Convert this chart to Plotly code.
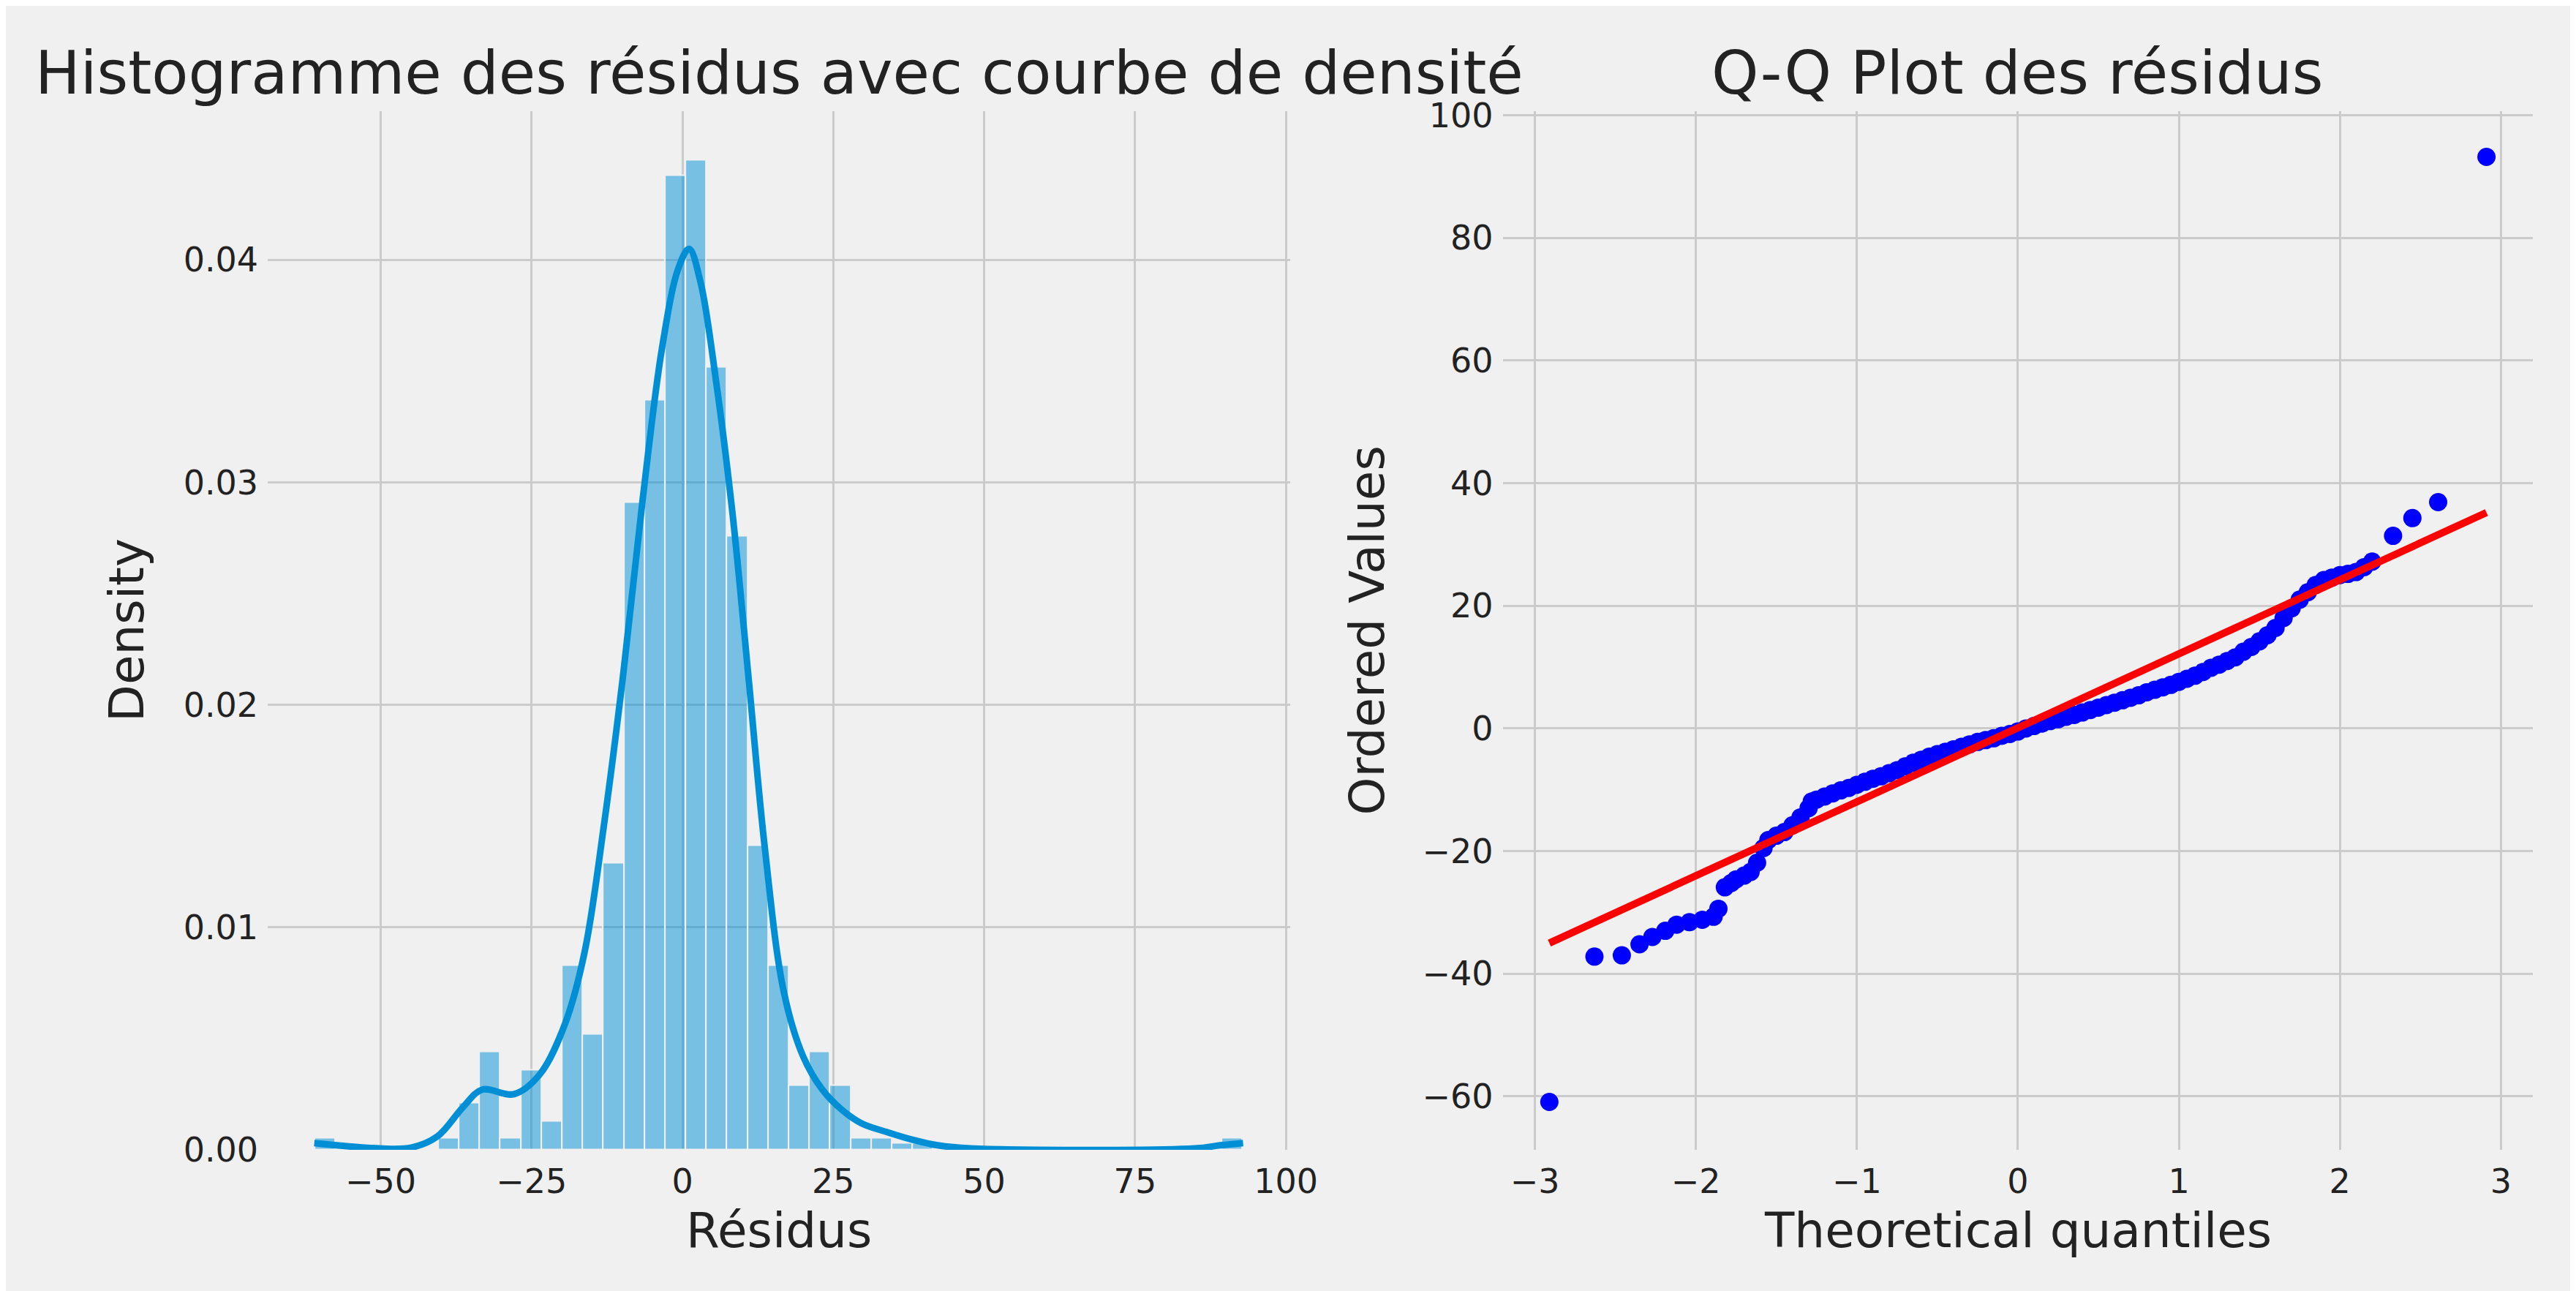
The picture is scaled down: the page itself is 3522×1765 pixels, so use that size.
import plotly.graph_objects as go

# histogram of residuals (density), 45 bins
bin_start = -60.96
bin_width = 3.415
hist_density = [0.00054, 0, 0, 0, 0, 0, 0.00054, 0.0021, 0.0044, 0.00054,
                0.0036, 0.0013, 0.0083, 0.0052, 0.0129, 0.0291, 0.0337, 0.0438,
                0.0445, 0.0352, 0.0276, 0.0137, 0.0083, 0.0029, 0.0044, 0.0029,
                0.00054, 0.00054, 0.0003, 0.0003, 0, 0, 0, 0, 0, 0, 0, 0, 0, 0,
                0, 0, 0, 0, 0.00054]

# KDE curve
kde_x = [-61, -50.2, -44.9, -40.6, -36.4, -33.2, -27.9, -23.6, -19.4, -16.2, -13,
         -9.8, -6.6, -3.4, -0.7, 1.1, 3, 5.6, 8.3, 11, 13.6, 16.8, 20, 23.2, 26.4,
         29.6, 33.8, 38.1, 42.3, 47.7, 84.9, 89.1, 92.9]
kde_y = [0.0003, 0.00006, 0.0001, 0.0006, 0.0019, 0.0027, 0.0025, 0.0034, 0.0057,
         0.0089, 0.0146, 0.0214, 0.0292, 0.0360, 0.0396, 0.0405, 0.039, 0.0345,
         0.0286, 0.0211, 0.0137, 0.0071, 0.0042, 0.0027, 0.0018, 0.0012, 0.0008,
         0.00045, 0.0002, 0.00006, 0.00006, 0.0002, 0.0003]

# Q-Q points
qq_x = [-2.91, -2.63, -2.46, -2.35, -2.27, -2.19, -2.12, -2.04, -1.96, -1.89, -1.86,
        -1.82, -1.78, -1.75, -1.7, -1.66, -1.62, -1.58, -1.55, -1.5, -1.45, -1.4,
        -1.35, -1.3, -1.28, -1.25, -1.2, -1.15, -1.1, -1.05, -1.0, -0.95, -0.9,
        -0.85, -0.8, -0.75, -0.7, -0.65, -0.6, -0.55, -0.5, -0.45, -0.4, -0.35,
        -0.3, -0.25, -0.2, -0.15, -0.1, -0.05, 0.0, 0.05, 0.1, 0.15, 0.2, 0.25,
        0.3, 0.35, 0.4, 0.45, 0.5, 0.55, 0.6, 0.65, 0.7, 0.75, 0.8, 0.85, 0.9,
        0.95, 1.0, 1.05, 1.1, 1.15, 1.2, 1.25, 1.3, 1.35, 1.4, 1.45, 1.5, 1.55,
        1.6, 1.65, 1.7, 1.75, 1.8, 1.85, 1.9, 1.95, 2.0, 2.05, 2.1, 2.15, 2.2,
        2.33, 2.45, 2.61, 2.91]
qq_y = [-60.9, -37.2, -37.0, -35.2, -34.0, -33.0, -32.0, -31.6, -31.2, -30.7, -29.4,
        -25.9, -25.2, -24.6, -24.0, -23.4, -21.9, -19.5, -18.2, -17.5, -16.9, -15.8,
        -14.5, -13.0, -11.9, -11.6, -11.1, -10.6, -10.1, -9.7, -9.2, -8.7, -8.2,
        -7.8, -7.3, -6.8, -6.2, -5.6, -5.1, -4.6, -4.2, -3.8, -3.4, -3.0, -2.6,
        -2.2, -1.9, -1.6, -1.2, -0.9, -0.5, 0.0, 0.4, 0.8, 1.2, 1.5, 1.9, 2.2, 2.6,
        3.0, 3.4, 3.8, 4.2, 4.6, 5.0, 5.4, 5.9, 6.3, 6.7, 7.1, 7.6, 8.1, 8.6, 9.2,
        9.9, 10.4, 11.0, 11.6, 12.5, 13.3, 14.2, 15.2, 16.4, 18.0, 19.6, 21.0, 22.2,
        23.4, 24.2, 24.6, 25.0, 25.2, 25.5, 26.3, 27.2, 31.4, 34.3, 36.9, 93.2]

# fitted reference line
line_x = [-2.91, 2.91]
line_y = [-35.0, 35.2]

bar_x = [bin_start + bin_width * (i + 0.5) for i in range(len(hist_density))]

fig = go.Figure()
fig.add_trace(go.Bar(x=bar_x, y=hist_density, width=bin_width,
                     marker=dict(color="rgba(0,143,213,0.5)",
                                 line=dict(color="#f0f0f0", width=2)),
                     xaxis="x", yaxis="y"))
fig.add_trace(go.Scatter(x=kde_x, y=kde_y, mode="lines", line_shape="spline",
                         line=dict(color="#008fd5", width=9), xaxis="x", yaxis="y"))
fig.add_trace(go.Scatter(x=qq_x, y=qq_y, mode="markers",
                         marker=dict(color="#0000ff", size=25), xaxis="x2", yaxis="y2"))
fig.add_trace(go.Scatter(x=line_x, y=line_y, mode="lines",
                         line=dict(color="#ff0000", width=10), xaxis="x2", yaxis="y2"))

grid = dict(showgrid=True, gridcolor="#cbcbcb", gridwidth=2.5, zeroline=False,
            showline=False, ticks="", tickfont=dict(size=46, color="#222"))

def label(text, x, y, size, angle=0):
    return dict(text=text, x=x, y=y, xref="paper", yref="paper", showarrow=False,
                xanchor="center", yanchor="middle", textangle=angle,
                font=dict(size=size))

fig.update_layout(
    width=3522, height=1765, autosize=False,
    margin=dict(l=0, r=0, t=0, b=0),
    paper_bgcolor="#f0f0f0", plot_bgcolor="#f0f0f0",
    font=dict(family="DejaVu Sans", color="#222"),
    showlegend=False, bargap=0,
    xaxis=dict(domain=[0.1028, 0.504], range=[-68.7, 100.7], ticklabelstandoff=12,
               tickvals=[-50, -25, 0, 25, 50, 75, 100], anchor="y", **grid),
    yaxis=dict(domain=[0.1014, 0.9286], range=[0, 0.0467], ticklabelstandoff=12,
               tickvals=[0, 0.01, 0.02, 0.03, 0.04], tickformat=".2f", anchor="x", **grid),
    xaxis2=dict(domain=[0.5874, 0.9918], range=[-3.2, 3.2], ticklabelstandoff=12,
                tickvals=[-3, -2, -1, 0, 1, 2, 3], anchor="y2", **grid),
    yaxis2=dict(domain=[0.1014, 0.9286], range=[-68.7, 100.7], ticklabelstandoff=12,
                tickvals=[-60, -40, -20, 0, 20, 40, 60, 80, 100], anchor="x2", **grid),
    annotations=[
        label("Histogramme des résidus avec courbe de densité", 0.3035, 1 - 72 / 1765, 82),
        label("Q-Q Plot des résidus", 0.7896, 1 - 72 / 1765, 82),
        label("Résidus", 0.3035, 1 - 1700 / 1765, 66),
        label("Theoretical quantiles", 0.7896, 1 - 1700 / 1765, 66),
        label("Density", 168 / 3522, 0.515, 66, -90),
        label("Ordered Values", 1882 / 3522, 0.515, 66, -90),
    ],
)

fig.write_html("out.html")
